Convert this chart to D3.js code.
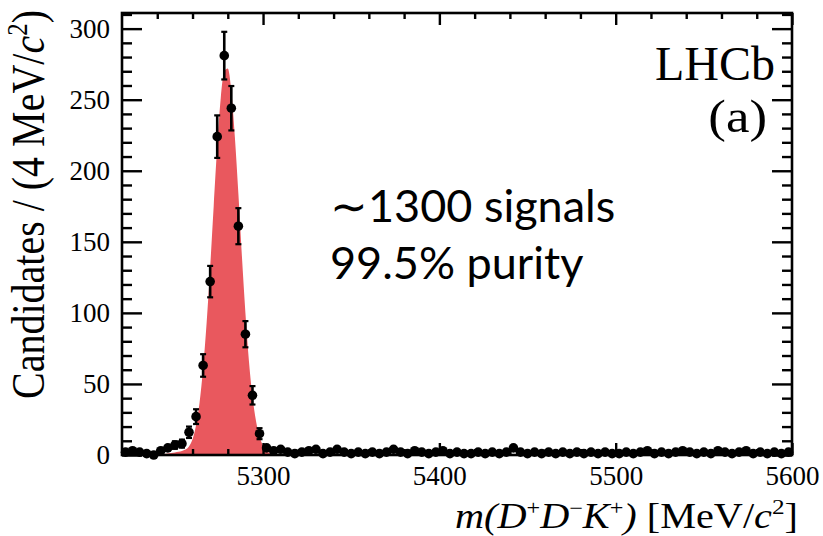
<!DOCTYPE html>
<html>
<head>
<meta charset="utf-8">
<script src="https://cdn.jsdelivr.net/npm/d3@7"></script>
<style>
  html, body { margin: 0; padding: 0; background: #ffffff; }
  svg { display: block; }
</style>
</head>
<body>
<svg id="chart" width="823" height="536"></svg>
<script>
// Invariant-mass bin centres (4 MeV/c^2 bins) and candidate counts
const binCentres = [
  5222, 5226, 5230, 5234, 5238, 5242, 5246, 5250, 5254, 5258,
  5262, 5266, 5270, 5274, 5278, 5282, 5286, 5290, 5294, 5298,
  5302, 5306, 5310, 5314, 5318, 5322, 5326, 5330, 5334, 5338,
  5342, 5346, 5350, 5354, 5358, 5362, 5366, 5370, 5374, 5378,
  5382, 5386, 5390, 5394, 5398, 5402, 5406, 5410, 5414, 5418,
  5422, 5426, 5430, 5434, 5438, 5442, 5446, 5450, 5454, 5458,
  5462, 5466, 5470, 5474, 5478, 5482, 5486, 5490, 5494, 5498,
  5502, 5506, 5510, 5514, 5518, 5522, 5526, 5530, 5534, 5538,
  5542, 5546, 5550, 5554, 5558, 5562, 5566, 5570, 5574, 5578,
  5582, 5586, 5590, 5594, 5598
];
const counts = [
  2, 3, 2, 1, 0, 3, 5, 7, 8, 16,
  27, 63, 122, 224, 281, 244, 161, 85, 42, 15,
  5, 3, 4, 2, 1, 2, 3, 4, 1, 2,
  4, 2, 1, 2, 1, 2, 1, 2, 4, 2,
  1, 3, 2, 1, 2, 3, 1, 2, 1, 1,
  2, 1, 2, 1, 2, 5, 2, 1, 2, 1,
  2, 1, 2, 1, 2, 1, 2, 1, 2, 1,
  1, 2, 1, 2, 3, 1, 2, 1, 2, 3,
  2, 1, 2, 1, 3, 2, 1, 2, 3, 1,
  2, 1, 2, 1, 2
];

// Signal component of the fit, sampled along the mass axis
const fitMass = [
  5238, 5242, 5246, 5250, 5252, 5254, 5256, 5258, 5260, 5262,
  5264, 5266, 5268, 5270, 5272, 5274, 5276, 5278, 5280, 5282,
  5284, 5286, 5288, 5290, 5292, 5294, 5296, 5298, 5300, 5302,
  5304, 5306, 5308, 5310
];
const fitSignal = [
  0, 0.3, 1.0, 1.8, 2.3, 2.9, 3.8, 6.0, 11, 21,
  37, 61, 93, 132, 175, 217, 251, 270, 272, 256,
  224, 184, 140, 100, 66, 41, 24, 13, 6.5, 3,
  1.3, 0.5, 0.2, 0
];

// Axis ticks
const xMajorTicks = [5300, 5400, 5500, 5600];
const xMinorTicks = [5240, 5260, 5280, 5320, 5340, 5360, 5380, 5420, 5440, 5460, 5480, 5520, 5540, 5560, 5580];
const yMajorTicks = [0, 50, 100, 150, 200, 250, 300];
const yMinorTicks = [10, 20, 30, 40, 60, 70, 80, 90, 110, 120, 130, 140, 160, 170, 180, 190,
                     210, 220, 230, 240, 260, 270, 280, 290, 310];

const svg = d3.select("#chart");
const L = 122, R = 792, T = 13, B = 455;

const x = d3.scaleLinear().domain([5220, 5600]).range([L, R]);
const y = d3.scaleLinear().domain([0, 311]).range([B, T]);

const serif = "'Liberation Serif', 'Times New Roman', serif";

// Signal shape (filled)
const area = d3.area()
  .x((d, i) => x(fitMass[i]))
  .y0(y(0))
  .y1((d, i) => y(fitSignal[i]))
  .curve(d3.curveMonotoneX);
svg.append("path")
  .datum(fitSignal)
  .attr("d", area)
  .attr("fill", "#e9585e")
  .attr("stroke", "none");

// Data points with Poisson error bars
const pts = binCentres.map((m, i) => ({ m, n: counts[i], e: Math.sqrt(counts[i]) }));
const g = svg.append("g");
g.selectAll("line.err")
  .data(pts.filter(d => d.e > 0))
  .join("line")
  .attr("x1", d => x(d.m)).attr("x2", d => x(d.m))
  .attr("y1", d => y(d.n - d.e)).attr("y2", d => y(d.n + d.e))
  .attr("stroke", "#000").attr("stroke-width", 2.6);
const capW = 3;
["lo", "hi"].forEach(side => {
  g.selectAll("line.cap" + side)
    .data(pts.filter(d => d.e > 2.5))
    .join("line")
    .attr("x1", d => x(d.m) - capW).attr("x2", d => x(d.m) + capW)
    .attr("y1", d => y(side === "lo" ? d.n - d.e : d.n + d.e))
    .attr("y2", d => y(side === "lo" ? d.n - d.e : d.n + d.e))
    .attr("stroke", "#000").attr("stroke-width", 2.2);
});
g.selectAll("circle")
  .data(pts)
  .join("circle")
  .attr("cx", d => x(d.m)).attr("cy", d => y(d.n))
  .attr("r", 4.8).attr("fill", "#000");

// Axes: ticks pointing inward on all four sides
function styleAxis(sel) {
  sel.select(".domain").remove();
  sel.selectAll(".tick line").attr("stroke", "#000").attr("stroke-width", 2.4);
  sel.selectAll(".tick text").attr("fill", "#000").style("font-family", serif).style("font-size", "27px");
}
svg.append("g").attr("transform", `translate(0,${B})`)
  .call(d3.axisBottom(x).tickValues(xMajorTicks).tickSize(-12).tickPadding(11).tickFormat(d3.format("d")))
  .call(styleAxis);
svg.append("g").attr("transform", `translate(0,${B})`)
  .call(d3.axisBottom(x).tickValues(xMinorTicks).tickSize(-6).tickFormat(""))
  .call(styleAxis);
svg.append("g").attr("transform", `translate(0,${T})`)
  .call(d3.axisTop(x).tickValues(xMajorTicks).tickSize(-12).tickFormat(""))
  .call(styleAxis);
svg.append("g").attr("transform", `translate(0,${T})`)
  .call(d3.axisTop(x).tickValues(xMinorTicks).tickSize(-6).tickFormat(""))
  .call(styleAxis);
svg.append("g").attr("transform", `translate(${L},0)`)
  .call(d3.axisLeft(y).tickValues(yMajorTicks).tickSize(-20).tickPadding(12).tickFormat(d3.format("d")))
  .call(styleAxis);
svg.append("g").attr("transform", `translate(${L},0)`)
  .call(d3.axisLeft(y).tickValues(yMinorTicks).tickSize(-10).tickFormat(""))
  .call(styleAxis);
svg.append("g").attr("transform", `translate(${R},0)`)
  .call(d3.axisRight(y).tickValues(yMajorTicks).tickSize(-20).tickFormat(""))
  .call(styleAxis);
svg.append("g").attr("transform", `translate(${R},0)`)
  .call(d3.axisRight(y).tickValues(yMinorTicks).tickSize(-10).tickFormat(""))
  .call(styleAxis);

// Frame
svg.append("rect")
  .attr("x", L).attr("y", T).attr("width", R - L).attr("height", B - T)
  .attr("fill", "none").attr("stroke", "#000").attr("stroke-width", 2.6);

// Axis titles (slightly widened serif lettering)
const xt = svg.append("text")
  .attr("transform", "translate(798,528) scale(1.15,1)")
  .attr("text-anchor", "end")
  .style("font-family", serif).style("font-size", "35px").attr("fill", "#000");
xt.append("tspan").style("font-style", "italic").text("m(D");
xt.append("tspan").attr("dy", -13).style("font-size", "21px").text("+");
xt.append("tspan").attr("dy", 13).style("font-style", "italic").text("D");
xt.append("tspan").attr("dy", -13).style("font-size", "21px").text("\u2212");
xt.append("tspan").attr("dy", 13).style("font-style", "italic").text("K");
xt.append("tspan").attr("dy", -13).style("font-size", "21px").text("+");
xt.append("tspan").attr("dy", 13).style("font-style", "italic").text(")");
xt.append("tspan").text(" [MeV/");
xt.append("tspan").style("font-style", "italic").text("c");
xt.append("tspan").attr("dy", -14).style("font-size", "22px").text("2");
xt.append("tspan").attr("dy", 14).text("]");

const yt = svg.append("text")
  .attr("transform", "translate(44,10) scale(1.15,1) rotate(-90)")
  .attr("text-anchor", "end")
  .style("font-family", serif).style("font-size", "40px").attr("fill", "#000");
yt.append("tspan").text("Candidates / (4 MeV/");
yt.append("tspan").style("font-style", "italic").text("c");
yt.append("tspan").attr("dy", -15).style("font-size", "25px").text("2");
yt.append("tspan").attr("dy", 15).text(")");

// Experiment label
svg.append("text").attr("x", 775).attr("y", 80).attr("text-anchor", "end")
  .style("font-family", serif).style("font-size", "48px").attr("fill", "#000").text("LHCb");
svg.append("text").attr("transform", "translate(767,132) scale(1.15,1)").attr("text-anchor", "end")
  .style("font-family", serif).style("font-size", "46px").attr("fill", "#000").text("(a)");

// Annotation
const sans = "Lato, 'Open Sans', 'Noto Sans', sans-serif";
svg.append("text").attr("x", 330).attr("y", 222)
  .style("font-family", sans).style("font-size", "45px").attr("fill", "#000").text("\u223C1300 signals");
svg.append("text").attr("x", 330).attr("y", 279)
  .style("font-family", sans).style("font-size", "45px").attr("fill", "#000").text("99.5% purity");
</script>
</body>
</html>
